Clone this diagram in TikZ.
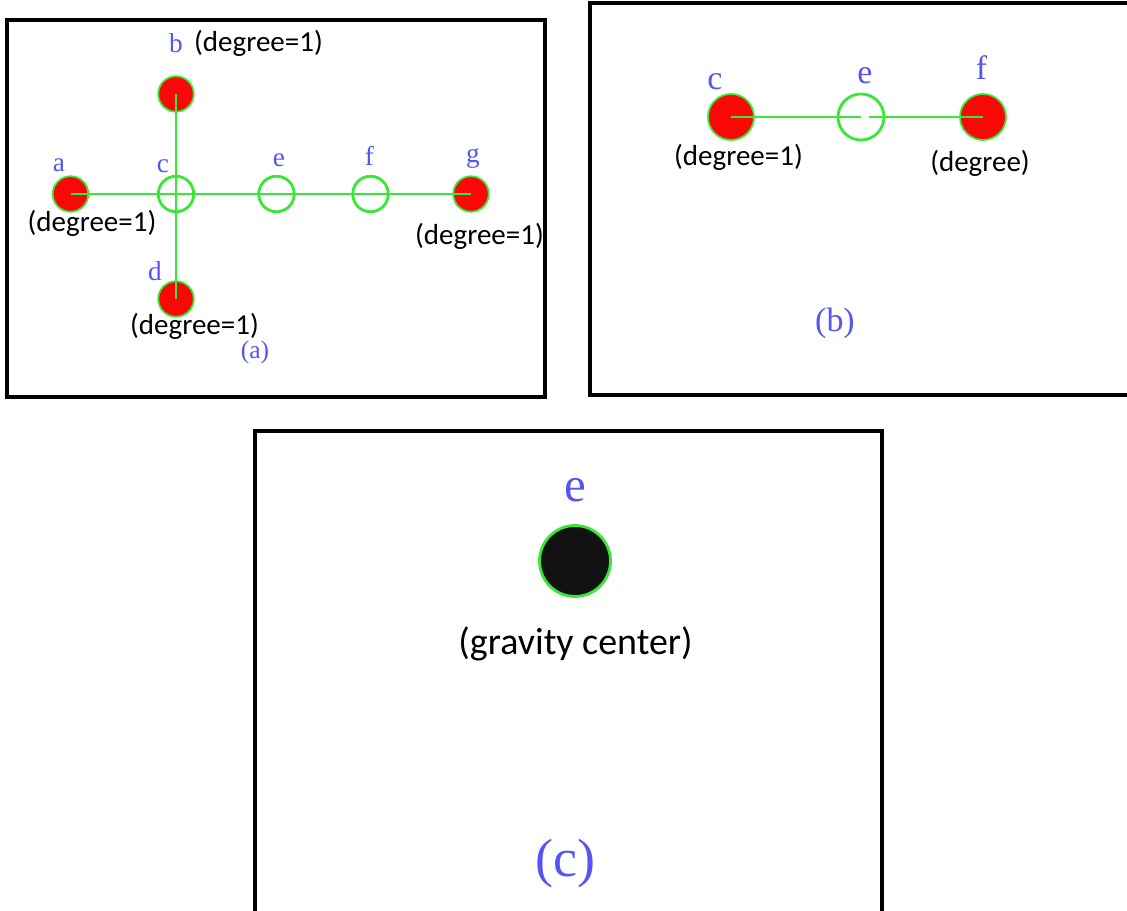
\documentclass[tikz,border=0pt]{standalone}
\usepackage{fontspec}
\newfontfamily\calib{Carlito}
\newfontfamily\lserif{Liberation Serif}
\definecolor{vgreen}{RGB}{55,232,55}
\definecolor{vred}{RGB}{250,8,8}
\definecolor{vblue}{RGB}{85,85,245}
\definecolor{vdark}{RGB}{18,18,18}

\begin{document}
\begin{tikzpicture}[x=0.02cm,y=-0.02cm,
    frame/.style={line width=0.07cm},
    leaf/.style={circle,draw=vgreen,fill=vred,line width=1pt,inner sep=0pt,minimum size=0.71cm},
    hollow/.style={circle,draw=vgreen,line width=1.6pt,inner sep=0pt,minimum size=0.71cm},
    edge/.style={vgreen,line width=0.85pt},
    vname/.style={text=vblue,anchor=base,inner sep=0pt,font=\lserif\fontsize{15.5}{18}\selectfont},
    deg/.style={anchor=base,inner sep=0pt,font=\calib\fontsize{16.5}{18}\selectfont}]

    \useasboundingbox (0,0) rectangle (1127,911);
    \clip (0,0) rectangle (1127,911);

    % (a): the whole tree
    \draw[frame] (7,20) rectangle (545,397);

    \node[leaf]   (a) at (70.5,194) {};
    \node[leaf]   (b) at (176,94) {};
    \node[hollow] (c) at (176,194) {};
    \node[leaf]   (d) at (176,299) {};
    \node[hollow] (e) at (276.5,194) {};
    \node[hollow] (f) at (370.5,194) {};
    \node[leaf]   (g) at (471,194) {};

    \draw[edge] (a.center) -- (c.center) -- (e.center) -- (f.center) -- (g.center);
    \draw[edge] (b.center) -- (c.center) -- (d.center);

    \node[vname] (name-a) at (59,171.5) {a};
    \node[vname] (name-b) at (176,53) {b};
    \node[vname] (name-c) at (163,173) {c};
    \node[vname] (name-d) at (155,281) {d};
    \node[vname] (name-e) at (279,166.5) {e};
    \node[vname] (name-f) at (369.5,165.5) {f};
    \node[vname] (name-g) at (473,163) {g};

    \node[deg] (deg-b) at (258.5,51.5) {(degree=1)};
    \node[deg] (deg-a) at (92,231.5) {(degree=1)};
    \node[deg] (deg-g) at (479.5,244.5) {(degree=1)};
    \node[deg] (deg-d) at (194.5,334.5) {(degree=1)};

    \node[vname,font=\lserif\fontsize{14.5}{17}\selectfont] (cap-a) at (255,359) {(a)};

    % (b): leaves cut once
    \draw[frame,line width=0.08cm] (590,3) rectangle (1140,395);

    \node[leaf,minimum size=0.92cm]   (cb) at (731,117) {};
    \node[hollow,minimum size=0.92cm] (eb) at (861,117) {};
    \node[leaf,minimum size=0.92cm]   (fb) at (983,117) {};

    \draw[edge] (cb.center) -- (eb.center);
    \draw[edge] ([xshift=0.16cm]eb.center) -- (fb.center);

    \node[vname,font=\lserif\fontsize{19.3}{22}\selectfont] (name-cb) at (715,90) {c};
    \node[vname,font=\lserif\fontsize{19.3}{22}\selectfont] (name-eb) at (865,83.5) {e};
    \node[vname,font=\lserif\fontsize{19.3}{22}\selectfont] (name-fb) at (981.5,80) {f};

    \node[deg] (deg-cb) at (738.5,166) {(degree=1)};
    \node[deg] (deg-fb) at (980,172) {(degree)};

    \node[vname,font=\lserif\fontsize{19.3}{22}\selectfont] (cap-b) at (835,332) {(b)};

    % (c): only the centre is left
    \draw[frame,line width=0.08cm] (255,431) rectangle (882,940);

    \node[circle,draw=vgreen,fill=vdark,line width=1.6pt,inner sep=0pt,minimum size=1.42cm] (ec) at (575,561) {};

    \node[vname,font=\lserif\fontsize{27.9}{32}\selectfont] (name-ec) at (575,501.5) {e};
    \node[deg,font=\calib\fontsize{21.6}{24}\selectfont] (deg-ec) at (575.5,655) {(gravity center)};
    \node[vname,font=\lserif\fontsize{30.7}{34}\selectfont] (cap-c) at (565.5,876.5) {(c)};
\end{tikzpicture}
\end{document}
